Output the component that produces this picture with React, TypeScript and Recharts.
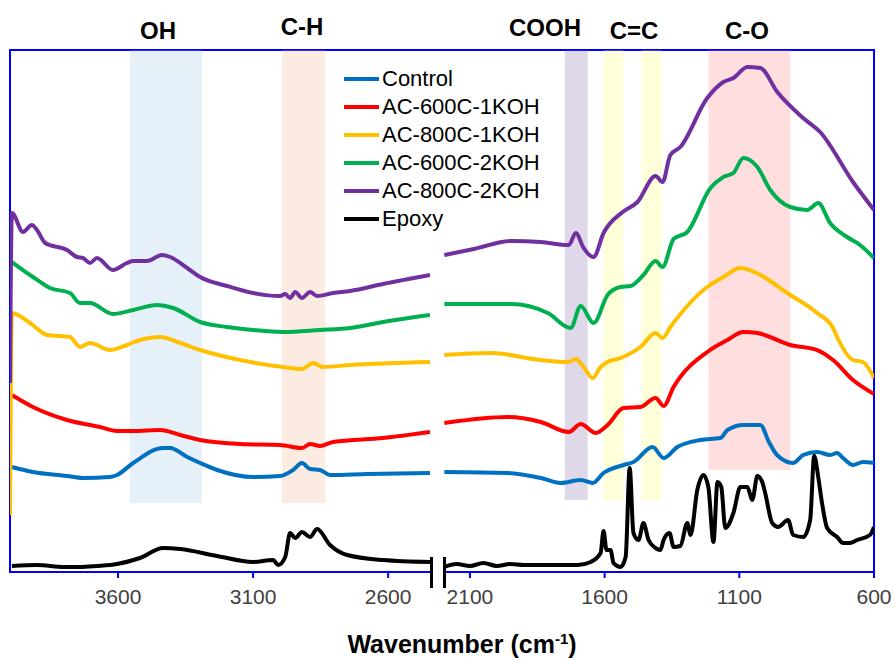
import React from 'react';
import { LineChart, Line, XAxis, YAxis, ReferenceArea, Legend } from 'recharts';

const FONT = '"Liberation Sans", Arial, sans-serif';
const AXIS_BLUE = '#0000FF';

const seriesNames = ['Control', 'AC-600C-1KOH', 'AC-800C-1KOH', 'AC-600C-2KOH', 'AC-800C-2KOH', 'Epoxy'];
const seriesColors = ['#0070C0', '#FF0000', '#FFC000', '#00B050', '#7030A0', '#000000'];

// [wavenumber cm-1, offset absorbance (a.u.)]
// high range panel: 4000 -> 2445
const controlHigh = [[3993,105],[3915,100],[3789,96],[3730,94],[3630,95],[3604,97],[3544,109],[3433,124],[3407,124],[3344,115],[3296,109],[3233,102],[3100,95],[3000,96],[2952,102],[2919,109],[2889,103],[2852,102],[2815,97],[2678,98],[2445,99]];
const ac600k1High = [[3993,177],[3915,165],[3789,152],[3667,145],[3604,141],[3544,141],[3444,142],[3370,137],[3296,132],[3148,128],[3000,127],[2919,124],[2889,128],[2852,126],[2804,130],[2619,134],[2445,140]];
const ac800k1High = [[4000,57],[3993,259],[3926,249],[3863,237],[3778,235],[3741,225],[3704,229],[3630,222],[3567,227],[3519,232],[3444,235],[3370,229],[3296,222],[3148,212],[2989,205],[2919,203],[2878,209],[2841,205],[2741,207],[2445,210]];
const ac600k2High = [[3993,310],[3915,295],[3852,284],[3778,279],[3741,269],[3704,269],[3619,258],[3544,262],[3456,267],[3396,264],[3296,250],[3196,245],[3100,242],[2989,240],[2852,242],[2741,244],[2619,250],[2445,257]];
const ac800k2High = [[4000,189],[3993,359],[3952,340],[3919,347],[3900,342],[3870,329],[3789,322],[3752,315],[3730,314],[3704,309],[3678,314],[3619,302],[3567,309],[3544,311],[3493,311],[3437,317],[3407,315],[3344,304],[3296,295],[3196,286],[3100,279],[3000,276],[2981,278],[2963,274],[2944,280],[2919,274],[2889,280],[2863,276],[2804,279],[2741,281],[2619,288],[2445,297]];
const epoxyHigh = [[3993,6],[3900,7],[3800,5],[3741,5],[3680,6],[3604,8],[3519,14],[3433,24],[3370,23],[3233,16],[3100,10],[3026,12],[3007,7],[2981,15],[2963,39],[2944,34],[2919,40],[2889,35],[2863,43],[2815,27],[2752,17],[2619,12],[2445,10]];

// low range panel: 2200 -> 600
const controlLow = [[2195,100],[1959,99],[1837,94],[1763,89],[1689,92],[1644,89],[1604,99],[1530,107],[1493,110],[1422,125],[1381,114],[1330,125],[1244,132],[1170,134],[1144,142],[1085,147],[1022,147],[990,130],[960,117],[900,109],[863,117],[811,120],[763,117],[737,119],[715,114],[678,107],[641,110],[600,109]];
const ac600k1Low = [[2195,149],[1959,155],[1837,150],[1733,140],[1689,148],[1633,139],[1589,147],[1530,164],[1467,165],[1411,174],[1381,166],[1344,185],[1219,220],[1144,232],[1085,240],[1033,239],[911,227],[811,222],[752,212],[678,192],[600,178]];
const ac800k1Low = [[2195,217],[2022,219],[1837,212],[1733,210],[1707,213],[1678,205],[1644,194],[1615,205],[1589,210],[1541,214],[1467,225],[1411,239],[1385,234],[1356,245],[1219,285],[1159,295],[1096,304],[1022,297],[922,279],[811,259],[752,244],[737,235],[678,212],[641,210],[600,194]];
const ac600k2Low = [[2195,268],[1948,268],[1811,259],[1726,244],[1689,266],[1641,249],[1589,277],[1541,285],[1504,286],[1456,297],[1411,311],[1385,305],[1344,333],[1293,340],[1207,384],[1159,395],[1122,399],[1085,414],[1033,405],[985,382],[911,365],[848,362],[807,369],[763,349],[700,335],[652,327],[600,314]];
const ac800k2Low = [[2195,317],[2085,323],[1948,331],[1837,330],[1733,327],[1707,339],[1678,324],[1641,315],[1604,339],[1533,360],[1478,370],[1411,396],[1385,390],[1356,417],[1319,425],[1219,474],[1159,490],[1122,494],[1070,505],[1022,504],[959,480],[863,454],[800,440],[678,390],[600,362]];
const epoxyLow = [[2195,5],[2150,8],[2100,6],[2050,9],[2000,6],[1950,8],[1900,7],[1800,7],[1700,7],[1652,10],[1615,19],[1604,41],[1593,22],[1578,22],[1567,9],[1541,5],[1522,15],[1507,104],[1493,39],[1474,32],[1456,49],[1437,32],[1411,24],[1393,22],[1381,32],[1359,39],[1344,25],[1319,26],[1293,49],[1281,37],[1256,82],[1233,97],[1215,85],[1196,30],[1181,90],[1167,85],[1152,44],[1122,59],[1096,85],[1070,85],[1052,72],[1033,96],[1015,90],[1004,79],[978,49],[956,45],[919,52],[900,37],[863,35],[837,52],[822,116],[807,95],[793,69],[774,44],[737,35],[715,29],[689,29],[663,32],[615,37],[600,45]];

const highSeries = [controlHigh, ac600k1High, ac800k1High, ac600k2High, ac800k2High, epoxyHigh];
const lowSeries = [controlLow, ac600k1Low, ac800k1Low, ac600k2Low, ac800k2Low, epoxyLow];

const highTicks = [3600, 3100, 2600];
const lowTicks = [2100, 1600, 1100, 600];

// band: [from, to, top of band (a.u.), colour]
const highBands = [
  [3556, 3289, 69, '#9DC3E6'],
  [2993, 2833, 69, '#F4B183'],
];
const lowBands = [
  [1748, 1663, 72, '#8064A2'],
  [1604, 1530, 72, '#FFFF66'],
  [1463, 1389, 72, '#FFFF66'],
  [1215, 911, 102, '#FF7C80'],
];

const bandLabels = [
  { text: 'OH', x: 158, y: 19 },
  { text: 'C-H', x: 302, y: 15 },
  { text: 'COOH', x: 545, y: 16 },
  { text: 'C=C', x: 634, y: 19 },
  { text: 'C-O', x: 747, y: 19 },
];

const Y_MAX = 522;

const toPts = (arr: number[][]) => arr.map(([x, y]) => ({ x, y }));

const LegendBox = () => (
  <div style={{ fontFamily: FONT, fontSize: 22, color: '#000' }}>
    {seriesNames.map((n, i) => (
      <div key={n} style={{ display: 'flex', alignItems: 'center', height: 28, whiteSpace: 'nowrap' }}>
        <span style={{ display: 'inline-block', width: 35, height: 4, background: seriesColors[i], marginRight: 3 }} />
        <span>{n}</span>
      </div>
    ))}
  </div>
);

type PanelProps = {
  left: number;
  width: number;
  margin: { top: number; right: number; left: number; bottom: number };
  domain: [number, number];
  ticks: number[];
  series: number[][][];
  bands: (string | number)[][];
  legend?: boolean;
};

const Panel = ({ left, width, margin, domain, ticks, series, bands, legend }: PanelProps) => (
  <div style={{ position: 'absolute', left, top: 0 }}>
    <LineChart width={width} height={658} margin={margin}>
      <XAxis
        dataKey="x"
        type="number"
        domain={domain}
        reversed
        allowDataOverflow
        ticks={ticks}
        interval={0}
        height={30}
        tickSize={6}
        tickMargin={11}
        axisLine={{ stroke: AXIS_BLUE, strokeWidth: 2 }}
        tickLine={{ stroke: AXIS_BLUE, strokeWidth: 2 }}
        tick={{ fill: '#404040', fontSize: 21, fontFamily: FONT }}
      />
      <YAxis hide type="number" domain={[0, Y_MAX]} allowDataOverflow />
      {series.map((d, i) => (
        <Line
          key={seriesNames[i]}
          data={toPts(d)}
          dataKey="y"
          name={seriesNames[i]}
          type="monotone"
          stroke={seriesColors[i]}
          strokeWidth={4}
          strokeLinejoin="round"
          dot={false}
          activeDot={false}
          isAnimationActive={false}
        />
      ))}
      {bands.map((b, i) => (
        <ReferenceArea
          key={i}
          x1={b[0] as number}
          x2={b[1] as number}
          y1={b[2] as number}
          y2={Y_MAX}
          fill={b[3] as string}
          fillOpacity={0.25}
          stroke="none"
          ifOverflow="hidden"
        />
      ))}
      {legend && (
        <Legend
          layout="vertical"
          align="center"
          verticalAlign="middle"
          wrapperStyle={{ left: 344, top: 65, width: 220 }}
          content={() => <LegendBox />}
        />
      )}
    </LineChart>
  </div>
);

export default function App() {
  return (
    <div style={{ position: 'absolute', left: 0, top: 0, width: 895, height: 658, background: '#fff', overflow: 'hidden', fontFamily: FONT }}>
      <div
        style={{
          position: 'absolute', left: 9, top: 49, width: 866, height: 524, boxSizing: 'border-box',
          borderTop: `2px solid ${AXIS_BLUE}`, borderLeft: `2px solid ${AXIS_BLUE}`, borderRight: `2px solid ${AXIS_BLUE}`,
        }}
      />
      <Panel
        left={0}
        width={440}
        margin={{ top: 50, right: 10, left: 10, bottom: 56 }}
        domain={[2445, 4000]}
        ticks={highTicks}
        series={highSeries}
        bands={highBands}
        legend
      />
      <Panel
        left={440}
        width={455}
        margin={{ top: 50, right: 21, left: 3, bottom: 56 }}
        domain={[600, 2200]}
        ticks={lowTicks}
        series={lowSeries}
        bands={lowBands}
      />
      <div style={{ position: 'absolute', left: 430, top: 557, width: 3, height: 31, background: '#000' }} />
      <div style={{ position: 'absolute', left: 443, top: 557, width: 3, height: 31, background: '#000' }} />
      {bandLabels.map((l) => (
        <div
          key={l.text}
          style={{ position: 'absolute', left: l.x - 60, top: l.y, width: 120, textAlign: 'center', fontSize: 24, lineHeight: '24px', fontWeight: 'bold', color: '#000' }}
        >
          {l.text}
        </div>
      ))}
      <div style={{ position: 'absolute', left: 262, top: 632, width: 400, height: 25, textAlign: 'center', fontSize: 25, lineHeight: '25px', fontWeight: 'bold', color: '#000' }}>
        Wavenumber (cm<sup style={{ fontSize: 15, lineHeight: 0, verticalAlign: 'super' }}>-1</sup>)
      </div>
    </div>
  );
}
